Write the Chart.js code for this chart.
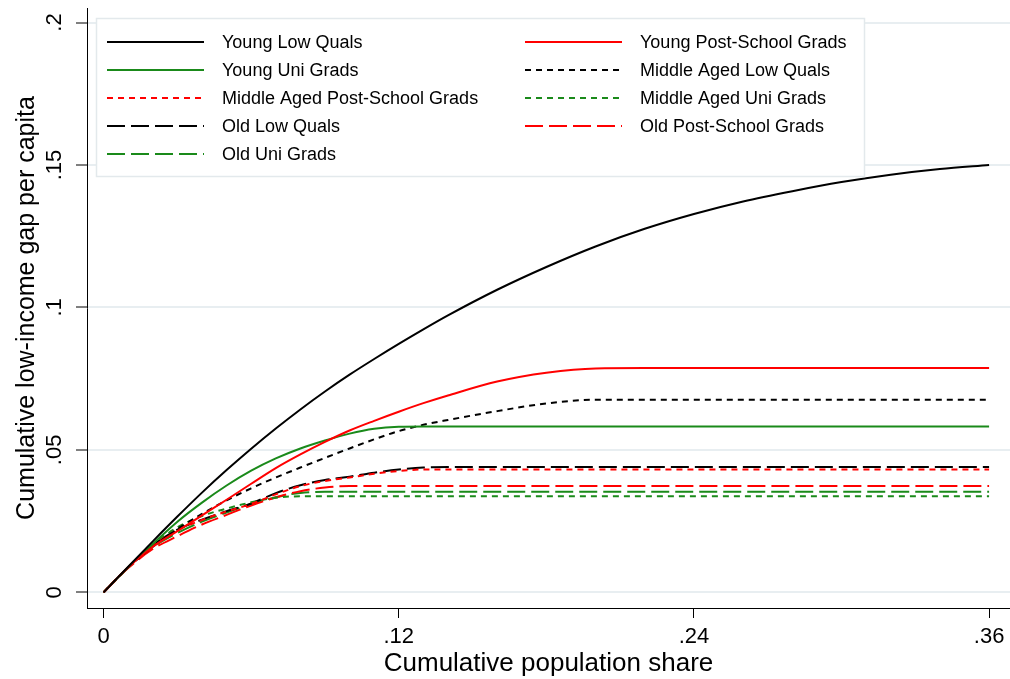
<!DOCTYPE html>
<html>
<head>
<meta charset="utf-8">
<script src="https://cdn.jsdelivr.net/npm/chart.js@4"></script>
<style>
  html, body { margin: 0; padding: 0; background: #fff; }
</style>
</head>
<body>
<canvas id="tipChart" width="1010" height="679"></canvas>
<script>
// cumulative population share (x) and TIP curve values per group (y)
const popShare = [0, 0.01, 0.02, 0.03, 0.04, 0.05, 0.06, 0.07, 0.08, 0.09, 0.1, 0.11, 0.12, 0.13, 0.14,
                  0.16, 0.18, 0.2, 0.22, 0.24, 0.26, 0.28, 0.3, 0.32, 0.34, 0.36];

const youngLowQuals   = [0, .009, .0179, .0266, .035, .0429, .0504, .0575, .0642, .0705, .0764, .0819, .0872, .0923, .0972,
                         .1062, .1142, .1214, .1276, .1328, .1372, .1408, .144, .1466, .1486, .15];
const youngPostSchool = [0, .0088, .016, .0215, .027, .0325, .0381, .0436, .0484, .0528, .0568, .0602, .0634, .0664, .0691,
                         .074, .0771, .0786, .0787, .0787, .0787, .0787, .0787, .0787, .0787, .0787];
const youngUniGrads   = [0, .0088, .017, .0248, .0315, .0375, .0427, .047, .0505, .0533, .0557, .0574, .0581, .0582, .0582,
                         .0582, .0582, .0582, .0582, .0582, .0582, .0582, .0582, .0582, .0582, .0582];
const midLowQuals     = [0, .0088, .016, .0222, .0275, .0323, .0365, .0403, .0438, .0472, .0505, .0537, .0566, .0588, .0605,
                         .0636, .0663, .0676, .0676, .0676, .0676, .0676, .0676, .0676, .0676, .0676];
const midPostSchool   = [0, .0088, .0163, .0218, .0254, .0284, .031, .0344, .0373, .0391, .0403, .0416, .0426, .0431, .0431,
                         .0431, .0431, .0431, .0431, .0431, .0431, .0431, .0431, .0431, .0431, .0431];
const midUniGrads     = [0, .0088, .0167, .0228, .0268, .0294, .0316, .0332, .0337, .0337, .0337, .0337, .0337, .0337, .0337,
                         .0337, .0337, .0337, .0337, .0337, .0337, .0337, .0337, .0337, .0337, .0337];
const oldLowQuals     = [0, .0088, .0165, .022, .0255, .0285, .0312, .0348, .0376, .0394, .0406, .042, .0431, .0438, .044,
                         .044, .044, .044, .044, .044, .044, .044, .044, .044, .044, .044];
const oldPostSchool   = [0, .0085, .0152, .0197, .0238, .0272, .0305, .0333, .0355, .0368, .0373, .0373, .0373, .0373, .0373,
                         .0373, .0373, .0373, .0373, .0373, .0373, .0373, .0373, .0373, .0373, .0373];
const oldUniGrads     = [0, .0087, .0158, .0208, .0248, .028, .031, .0334, .0349, .0353, .0353, .0353, .0353, .0353, .0353,
                         .0353, .0353, .0353, .0353, .0353, .0353, .0353, .0353, .0353, .0353, .0353];

const xTicks = [0, 0.12, 0.24, 0.36];
const yTicks = [0, 0.05, 0.1, 0.15, 0.2];

const FONT = 'Arial, "Liberation Sans", Helvetica, sans-serif';
Chart.defaults.font.family = FONT;
Chart.defaults.color = '#000';

const GREEN = '#1a8a1a';
const SHORT = [6, 5];
const LONG = [18, 6];

function series(label, values, color, dash) {
    return {
        label: label,
        data: popShare.map((x, i) => ({ x: x, y: values[i] })),
        borderColor: color,
        borderDash: dash,
        borderWidth: 2,
        pointRadius: 0,
        fill: false,
        cubicInterpolationMode: 'monotone'
    };
}

// strip the leading zero like Stata does: .05, .12
function fmt(v) {
    if (v === 0) return '0';
    return String(+v.toFixed(2)).replace(/^0\./, '.');
}

// two-column legend inside the plot
const legendBox = {
    id: 'legendBox',
    afterDatasetsDraw(chart) {
        const ctx = chart.ctx;
        ctx.save();
        ctx.fillStyle = '#fff';
        ctx.fillRect(96, 18, 768, 158);
        ctx.strokeStyle = '#e3e9ec';
        ctx.lineWidth = 1.5;
        ctx.strokeRect(96.5, 18.5, 768, 158);
        ctx.font = '18px ' + FONT;
        ctx.textBaseline = 'middle';
        ctx.textAlign = 'left';
        chart.data.datasets.forEach((ds, i) => {
            const col = i % 2;
            const row = Math.floor(i / 2);
            const y = 42 + row * 28;
            const x0 = col ? 525 : 107;
            ctx.strokeStyle = ds.borderColor;
            ctx.lineWidth = 2;
            ctx.setLineDash(ds.borderDash);
            ctx.beginPath();
            ctx.moveTo(x0, y);
            ctx.lineTo(x0 + 97, y);
            ctx.stroke();
            ctx.setLineDash([]);
            ctx.fillStyle = '#000';
            ctx.fillText(ds.label, col ? 640 : 222, y + 1);
        });
        ctx.restore();
    }
};

const ctx = document.getElementById('tipChart').getContext('2d');
const tipChart = new Chart(ctx, {
    type: 'line',
    data: {
        datasets: [
            series('Young Low Quals', youngLowQuals, '#000', []),
            series('Young Post-School Grads', youngPostSchool, '#ff0000', []),
            series('Young Uni Grads', youngUniGrads, GREEN, []),
            series('Middle Aged Low Quals', midLowQuals, '#000', SHORT),
            series('Middle Aged Post-School Grads', midPostSchool, '#ff0000', SHORT),
            series('Middle Aged Uni Grads', midUniGrads, GREEN, SHORT),
            series('Old Low Quals', oldLowQuals, '#000', LONG),
            series('Old Post-School Grads', oldPostSchool, '#ff0000', LONG),
            series('Old Uni Grads', oldUniGrads, GREEN, LONG)
        ]
    },
    options: {
        responsive: false,
        animation: false,
        layout: { padding: { top: 8, right: 0, bottom: 0, left: 0 } },
        plugins: {
            legend: { display: false },
            tooltip: { enabled: false }
        },
        scales: {
            x: {
                type: 'linear',
                min: -0.00675,
                max: 0.3685,
                afterBuildTicks: s => { s.ticks = xTicks.map(v => ({ value: v })); },
                afterFit: s => {
                    s.height = 71;
                    s.paddingLeft = 0;
                    s.paddingRight = 0;
                },
                ticks: {
                    callback: v => fmt(v),
                    font: { size: 22 },
                    color: '#000',
                    padding: 6,
                    maxRotation: 0,
                    autoSkip: false
                },
                grid: { drawOnChartArea: false, tickLength: 10, tickColor: '#000', tickWidth: 1 },
                border: { display: true, color: '#000', width: 1 },
                title: {
                    display: true,
                    text: 'Cumulative population share',
                    font: { size: 26 },
                    color: '#000',
                    padding: { top: 0, bottom: 0 }
                }
            },
            y: {
                type: 'linear',
                min: -0.0055,
                max: 0.2051,
                afterBuildTicks: s => { s.ticks = yTicks.map(v => ({ value: v })); },
                afterFit: s => {
                    s.width = 87;
                    s.paddingTop = 0;
                    s.paddingBottom = 0;
                },
                ticks: {
                    callback: v => fmt(v),
                    font: { size: 22 },
                    color: '#000',
                    minRotation: 90,
                    maxRotation: 90,
                    crossAlign: 'center',
                    padding: 6,
                    autoSkip: false
                },
                grid: { color: '#e8eef1', lineWidth: 2, tickLength: 11, tickColor: '#000', tickWidth: 1 },
                border: { display: true, color: '#000', width: 1 },
                title: {
                    display: true,
                    text: 'Cumulative low-income gap per capita',
                    font: { size: 25 },
                    color: '#000',
                    padding: { top: 12, bottom: 0 }
                }
            }
        }
    },
    plugins: [legendBox]
});
</script>
</body>
</html>
